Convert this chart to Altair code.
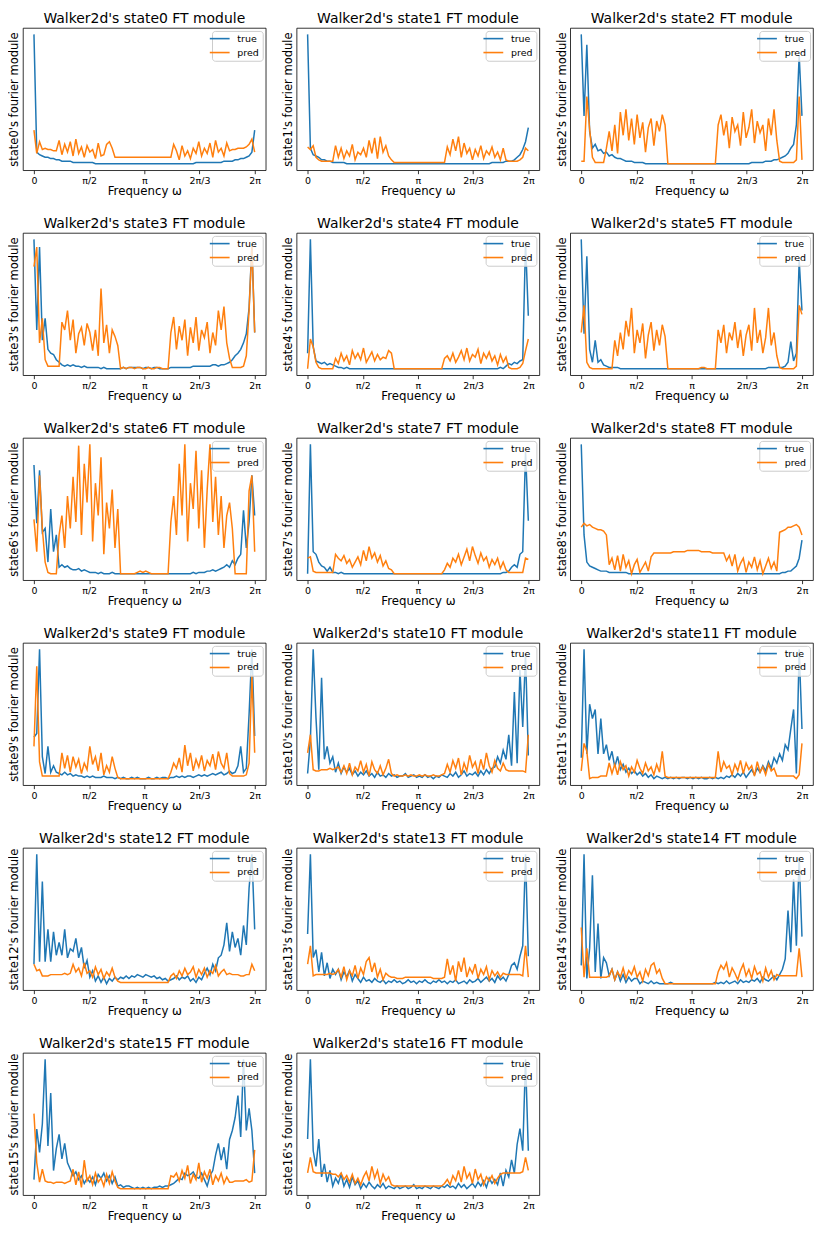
import altair as alt
import pandas as pd

# ---------------- data (0-100 relative units) ----------------
TICK_POS = [0, 19.75, 39.5, 59.25, 79]
TICK_LABELS = ["0", "π/2", "π", "2π/3", "2π"]
SERIES = ["true", "pred"]
COLORS = ["#1f77b4", "#ff7f0e"]

t0 = [100, 9, 7, 6, 5, 5, 4, 4, 3, 3, 2, 2, 2, 2, 1, 1, 1, 1, 1, 1,
      1, 1, 0, 0, 0, 0, 0, 0, 0, 0, 0, 0, 0, 0, 0, 0, 0, 0, 0, 0,
      0, 0, 0, 0, 0, 0, 0, 0, 0, 0, 0, 0, 0, 0, 0, 0, 0, 0, 1, 1,
      1, 1, 1, 1, 1, 1, 1, 1, 2, 2, 2, 2, 3, 3, 4, 4, 5, 6, 9, 26]
p0 = [26, 8, 17, 11, 12, 11, 11, 10, 10, 18, 7, 15, 9, 17, 6, 19, 8, 13, 5, 14,
      9, 11, 4, 16, 6, 7, 15, 17, 12, 5, 5, 5, 5, 5, 5, 5, 5, 5, 5, 5,
      5, 5, 5, 5, 5, 5, 5, 5, 5, 5, 15, 10, 3, 14, 6, 10, 4, 12, 8, 17,
      6, 12, 8, 16, 5, 18, 9, 12, 6, 16, 10, 11, 11, 12, 12, 12, 13, 15, 19, 9]

t1 = [100, 12, 7, 6, 5, 3, 3, 2, 2, 1, 1, 1, 1, 1, 0, 0, 0, 0, 0, 0,
      0, 0, 0, 0, 0, 0, 0, 0, 0, 0, 0, 0, 0, 0, 0, 0, 0, 0, 0, 0,
      0, 0, 0, 0, 0, 0, 0, 0, 0, 0, 0, 0, 0, 0, 0, 0, 0, 0, 0, 0,
      0, 0, 0, 0, 0, 0, 1, 1, 1, 1, 1, 2, 2, 2, 3, 5, 7, 11, 17, 28]
p1 = [13, 11, 14, 5, 3, 2, 2, 2, 2, 2, 14, 5, 12, 4, 10, 6, 15, 3, 9, 7,
      12, 5, 18, 8, 20, 4, 21, 9, 14, 6, 3, 1, 1, 1, 1, 1, 1, 1, 1, 1,
      1, 1, 1, 1, 1, 1, 1, 1, 1, 1, 13, 7, 19, 10, 21, 5, 16, 8, 12, 3,
      11, 6, 14, 4, 10, 7, 13, 5, 9, 3, 12, 3, 2, 2, 2, 2, 3, 5, 12, 10]

t2 = [100, 37, 92, 25, 12, 15, 10, 11, 8, 9, 6, 7, 5, 4, 4, 3, 2, 2, 2, 1,
      1, 1, 1, 0, 0, 0, 0, 0, 0, 0, 0, 0, 0, 0, 0, 0, 0, 0, 0, 0,
      0, 0, 0, 0, 0, 0, 0, 0, 0, 0, 0, 0, 0, 0, 0, 0, 0, 0, 0, 0,
      0, 1, 1, 1, 1, 1, 2, 2, 2, 3, 3, 4, 5, 6, 8, 12, 15, 30, 84, 37]
p2 = [2, 2, 52, 27, 5, 1, 1, 1, 1, 12, 25, 10, 30, 8, 40, 22, 42, 18, 35, 15,
      38, 20, 32, 9, 28, 35, 14, 33, 25, 38, 30, 0, 0, 0, 0, 0, 0, 0, 0, 0,
      0, 0, 0, 0, 0, 0, 0, 0, 0, 30, 38, 22, 33, 12, 36, 25, 30, 14, 40, 20,
      28, 42, 16, 33, 24, 30, 10, 35, 22, 42, 18, 2, 1, 1, 1, 1, 1, 3, 52, 3]

t3 = [100, 30, 94, 22, 39, 15, 12, 11, 7, 5, 3, 2, 3, 2, 3, 2, 2, 1, 2, 1,
      1, 1, 1, 1, 0, 1, 0, 0, 0, 0, 0, 0, 1, 0, 1, 1, 1, 1, 1, 0,
      1, 1, 0, 1, 1, 0, 0, 0, 0, 1, 1, 1, 1, 1, 1, 1, 1, 2, 2, 2,
      2, 2, 2, 2, 3, 3, 2, 3, 3, 4, 5, 7, 10, 12, 15, 20, 27, 47, 96, 28]
p3 = [79, 94, 20, 39, 7, 2, 2, 2, 2, 2, 36, 30, 45, 22, 38, 12, 27, 32, 18, 35,
      28, 14, 30, 10, 62, 20, 34, 12, 30, 25, 18, 0, 1, 0, 1, 1, 0, 1, 1, 0,
      0, 1, 0, 0, 1, 1, 0, 0, 0, 28, 40, 15, 33, 22, 38, 10, 32, 20, 40, 14,
      30, 24, 36, 12, 28, 18, 45, 30, 48, 20, 8, 1, 1, 1, 1, 2, 10, 45, 95, 28]

t4 = [12, 100, 17, 6, 5, 4, 5, 3, 4, 3, 2, 1, 1, 0, 1, 0, 0, 0, 0, 0,
      0, 0, 0, 0, 0, 0, 0, 0, 0, 0, 0, 0, 0, 0, 0, 0, 0, 0, 0, 0,
      0, 0, 0, 0, 0, 0, 0, 0, 0, 0, 0, 0, 0, 0, 0, 0, 0, 0, 0, 0,
      0, 0, 0, 0, 0, 0, 0, 0, 0, 1, 0, 2, 4, 3, 5, 4, 6, 7, 98, 41]
p4 = [0, 23, 17, 5, 1, 0, 0, 0, 0, 0, 8, 4, 12, 6, 10, 3, 14, 8, 12, 7,
      16, 5, 9, 13, 6, 11, 7, 9, 8, 14, 12, 0, 0, 0, 0, 0, 0, 0, 0, 0,
      0, 0, 0, 0, 0, 0, 0, 0, 0, 8, 10, 6, 12, 5, 9, 14, 7, 16, 6, 11,
      9, 15, 4, 12, 8, 13, 6, 10, 3, 11, 5, 9, 1, 0, 0, 0, 1, 4, 14, 23]

t5 = [100, 27, 87, 15, 5, 22, 5, 7, 3, 2, 1, 1, 1, 1, 0, 0, 0, 0, 0, 0,
      0, 0, 0, 0, 0, 0, 0, 0, 0, 0, 0, 0, 0, 0, 0, 0, 0, 0, 0, 0,
      0, 0, 0, 0, 0, 0, 0, 0, 0, 0, 0, 0, 0, 0, 0, 0, 0, 0, 0, 0,
      0, 0, 0, 0, 0, 0, 0, 1, 1, 1, 1, 1, 1, 2, 5, 21, 6, 12, 84, 45]
p5 = [28, 49, 5, 1, 0, 0, 0, 0, 0, 0, 0, 0, 22, 10, 28, 15, 37, 25, 47, 12,
      30, 20, 35, 8, 26, 36, 14, 30, 18, 34, 25, 0, 0, 0, 0, 0, 0, 0, 0, 0,
      0, 0, 0, 1, 1, 0, 0, 0, 0, 30, 20, 34, 12, 28, 22, 36, 16, 30, 10, 26,
      34, 14, 47, 20, 30, 12, 24, 47, 18, 28, 10, 1, 0, 0, 0, 0, 0, 2, 49, 42]

t6 = [84, 39, 80, 32, 35, 9, 50, 17, 30, 5, 7, 5, 6, 4, 3, 3, 4, 2, 3, 2,
      1, 1, 1, 0, 1, 0, 0, 0, 1, 0, 0, 0, 0, 0, 0, 0, 0, 0, 0, 0,
      0, 0, 0, 0, 0, 0, 0, 0, 0, 0, 0, 0, 0, 0, 0, 0, 0, 1, 0, 1,
      1, 1, 2, 2, 3, 2, 3, 4, 5, 7, 5, 10, 7, 12, 15, 49, 20, 40, 76, 45]
p6 = [42, 17, 76, 35, 9, 1, 0, 0, 0, 30, 45, 20, 60, 35, 75, 40, 99, 30, 85, 55,
      100, 25, 70, 45, 90, 15, 55, 35, 65, 20, 50, 0, 0, 0, 0, 0, 0, 1, 2, 1,
      2, 1, 0, 0, 0, 0, 0, 0, 0, 40, 60, 30, 85, 45, 100, 25, 70, 50, 95, 35,
      80, 20, 65, 100, 40, 75, 30, 60, 20, 45, 55, 35, 0, 0, 0, 0, 0, 64, 76, 17]

t7 = [0, 100, 17, 15, 9, 6, 5, 2, 5, 1, 1, 0, 1, 0, 0, 0, 0, 0, 0, 0,
      0, 0, 0, 0, 0, 0, 0, 0, 0, 0, 0, 0, 0, 0, 0, 0, 0, 0, 0, 0,
      0, 0, 0, 0, 0, 0, 0, 0, 0, 0, 0, 0, 0, 0, 0, 0, 0, 0, 0, 0,
      0, 0, 0, 0, 0, 0, 0, 0, 0, 0, 1, 1, 2, 5, 7, 5, 15, 17, 94, 41]
p7 = [12, 13, 2, 1, 1, 1, 1, 1, 1, 1, 15, 12, 10, 14, 8, 11, 5, 9, 13, 7,
      18, 10, 21, 12, 16, 9, 14, 6, 10, 4, 3, 0, 0, 0, 0, 0, 0, 0, 0, 0,
      0, 0, 0, 0, 0, 0, 0, 0, 0, 3, 8, 5, 12, 9, 15, 7, 13, 19, 10, 21,
      14, 8, 16, 10, 13, 5, 11, 7, 12, 4, 9, 3, 1, 1, 1, 1, 1, 1, 12, 11]

t8 = [100, 30, 9, 6, 5, 4, 3, 2, 2, 2, 1, 1, 1, 1, 1, 1, 1, 0, 0, 0,
      0, 0, 0, 0, 0, 0, 0, 0, 0, 0, 0, 0, 0, 0, 0, 0, 0, 0, 0, 0,
      0, 0, 0, 0, 0, 0, 0, 0, 0, 0, 0, 0, 0, 0, 0, 0, 0, 0, 0, 0,
      0, 0, 0, 0, 0, 0, 0, 0, 0, 0, 0, 0, 1, 1, 2, 2, 4, 6, 12, 26]
p8 = [36, 39, 37, 38, 36, 35, 34, 34, 33, 30, 7, 12, 3, 14, 2, 15, 5, 10, 0, 7,
      11, 1, 5, 9, 2, 13, 16, 16, 16, 16, 16, 16, 16, 17, 17, 17, 17, 17, 18, 18,
      18, 18, 18, 17, 17, 17, 17, 16, 16, 16, 16, 16, 10, 14, 6, 15, 2, 8, 12, 1,
      9, 5, 13, 3, 10, 0, 6, 12, 4, 9, 2, 32, 33, 34, 36, 36, 37, 38, 36, 30]

t9 = [32, 35, 100, 17, 4, 25, 5, 10, 5, 4, 3, 5, 3, 4, 2, 3, 2, 2, 1, 2,
      1, 2, 1, 1, 1, 2, 1, 1, 1, 0, 1, 0, 1, 0, 0, 1, 0, 1, 0, 0,
      0, 1, 0, 0, 1, 0, 1, 1, 0, 1, 1, 2, 1, 2, 1, 2, 2, 1, 2, 3,
      2, 3, 2, 3, 4, 3, 4, 5, 3, 4, 6, 4, 5, 10, 25, 5, 8, 50, 100, 33]
p9 = [25, 87, 13, 2, 2, 2, 2, 2, 2, 2, 20, 8, 18, 5, 17, 9, 15, 4, 12, 7,
      25, 11, 17, 6, 20, 3, 10, 5, 17, 8, 1, 0, 0, 0, 0, 0, 0, 0, 0, 0,
      0, 0, 0, 0, 0, 0, 0, 0, 0, 5, 12, 8, 16, 5, 26, 10, 20, 6, 15, 9,
      18, 6, 14, 10, 19, 7, 21, 12, 8, 20, 4, 2, 2, 2, 2, 2, 3, 12, 80, 20]

t10 = [4, 30, 100, 47, 7, 78, 15, 25, 12, 17, 5, 12, 4, 9, 5, 8, 3, 6, 2, 5,
       3, 6, 2, 4, 1, 5, 2, 3, 1, 4, 2, 3, 1, 2, 2, 4, 1, 2, 3, 1,
       2, 1, 3, 1, 2, 0, 2, 1, 3, 2, 1, 4, 2, 5, 1, 3, 6, 2, 4, 3,
       5, 2, 6, 3, 7, 4, 8, 9, 17, 12, 22, 15, 34, 10, 67, 12, 84, 40, 97, 18]
p10 = [20, 34, 7, 6, 6, 7, 7, 7, 8, 7, 8, 9, 5, 10, 4, 12, 3, 9, 6, 14,
       5, 11, 2, 13, 7, 4, 10, 3, 8, 15, 4, 2, 3, 2, 2, 3, 2, 3, 2, 2,
       3, 2, 3, 2, 2, 3, 2, 2, 3, 4, 11, 5, 14, 8, 16, 3, 12, 6, 18, 9,
       13, 4, 15, 7, 20, 10, 5, 14, 8, 6, 12, 7, 6, 6, 6, 6, 6, 6, 5, 34]

t11 = [17, 100, 20, 58, 47, 54, 20, 47, 20, 27, 15, 22, 10, 18, 8, 12, 6, 9, 5, 7,
       4, 6, 3, 5, 2, 4, 1, 3, 2, 1, 2, 1, 2, 1, 2, 1, 2, 2, 1, 2,
       1, 2, 1, 2, 1, 1, 2, 1, 2, 1, 2, 1, 3, 2, 4, 2, 5, 3, 6, 2,
       5, 8, 4, 9, 6, 11, 7, 14, 9, 17, 13, 20, 15, 27, 23, 39, 54, 5, 100, 39]
p11 = [7, 28, 22, 1, 2, 2, 2, 3, 3, 3, 13, 5, 12, 4, 14, 8, 11, 3, 10, 6,
       15, 9, 5, 13, 7, 10, 4, 12, 6, 22, 3, 2, 2, 2, 2, 2, 2, 2, 2, 2,
       2, 2, 2, 2, 2, 2, 2, 2, 2, 22, 6, 14, 9, 11, 4, 12, 7, 15, 5, 13,
       8, 11, 3, 14, 6, 10, 4, 12, 7, 9, 3, 3, 3, 3, 3, 3, 3, 1, 4, 28]

t12 = [15, 100, 17, 79, 17, 42, 17, 40, 22, 32, 22, 42, 20, 27, 25, 35, 20, 28, 12, 18,
       5, 10, 2, 6, 1, 5, 0, 4, 2, 5, 3, 5, 4, 6, 4, 6, 5, 7, 6, 5,
       7, 6, 5, 6, 4, 5, 3, 4, 2, 3, 4, 6, 3, 5, 4, 6, 2, 4, 1, 5,
       3, 8, 12, 7, 15, 10, 20, 22, 30, 47, 25, 40, 28, 35, 22, 45, 30, 74, 100, 42]
p12 = [15, 10, 11, 6, 6, 6, 7, 7, 7, 7, 7, 8, 7, 8, 15, 9, 12, 6, 16, 8,
       10, 5, 13, 7, 11, 4, 9, 6, 12, 5, 2, 1, 1, 1, 1, 1, 1, 1, 1, 1,
       1, 1, 1, 1, 1, 1, 1, 1, 1, 6, 8, 4, 10, 6, 12, 7, 9, 13, 5, 11,
       7, 12, 5, 10, 8, 14, 6, 9, 11, 7, 8, 7, 7, 7, 6, 6, 7, 7, 15, 10]

t13 = [39, 100, 21, 27, 10, 25, 7, 17, 5, 12, 8, 12, 4, 10, 6, 11, 3, 8, 5, 2,
       6, 3, 4, 2, 5, 3, 2, 4, 1, 3, 2, 4, 2, 3, 1, 2, 4, 2, 3, 1,
       3, 2, 4, 2, 1, 3, 2, 4, 2, 3, 1, 3, 2, 4, 1, 2, 3, 1, 4, 2,
       3, 5, 2, 4, 6, 3, 5, 2, 7, 4, 6, 3, 8, 15, 17, 12, 22, 30, 100, 22]
p13 = [16, 30, 7, 8, 8, 8, 8, 8, 9, 8, 9, 12, 6, 14, 4, 11, 7, 15, 5, 13,
       8, 18, 21, 10, 17, 6, 12, 4, 9, 7, 6, 6, 5, 5, 5, 6, 6, 6, 6, 6,
       6, 6, 6, 6, 6, 5, 5, 5, 5, 6, 20, 8, 15, 3, 18, 10, 21, 6, 13, 9,
       16, 5, 12, 8, 14, 4, 11, 7, 10, 6, 9, 8, 8, 8, 8, 8, 8, 7, 30, 6]

t14 = [15, 100, 5, 28, 84, 10, 47, 5, 21, 17, 7, 12, 4, 10, 3, 8, 2, 6, 3, 5,
       5, 1, 3, 2, 1, 3, 1, 2, 1, 1, 1, 1, 2, 1, 1, 1, 1, 1, 1, 1,
       1, 1, 1, 1, 1, 1, 1, 1, 2, 1, 2, 1, 3, 1, 2, 3, 1, 4, 2, 3,
       2, 4, 3, 5, 2, 6, 4, 3, 5, 7, 4, 8, 12, 20, 57, 25, 81, 30, 98, 37]
p14 = [44, 6, 28, 6, 6, 6, 6, 6, 6, 6, 7, 12, 4, 10, 6, 13, 5, 11, 8, 14,
       6, 10, 3, 12, 7, 15, 17, 9, 12, 5, 1, 1, 1, 1, 1, 1, 1, 1, 1, 1,
       1, 1, 1, 1, 1, 1, 1, 1, 1, 10, 15, 12, 17, 6, 13, 9, 4, 11, 16, 7,
       12, 5, 14, 8, 10, 3, 13, 6, 11, 4, 8, 7, 7, 7, 7, 7, 7, 7, 28, 6]

t15 = [7, 46, 28, 50, 100, 33, 74, 14, 31, 42, 23, 35, 20, 15, 10, 13, 7, 10, 4, 8,
       5, 9, 3, 11, 8, 12, 6, 10, 4, 9, 2, 3, 1, 2, 2, 1, 0, 1, 0, 1,
       0, 1, 0, 1, 1, 2, 1, 2, 2, 3, 4, 6, 8, 7, 12, 10, 11, 13, 9, 8,
       12, 7, 2, 10, 14, 26, 35, 22, 32, 15, 38, 45, 55, 72, 40, 100, 45, 62, 45, 12]
p15 = [58, 20, 5, 15, 6, 5, 5, 4, 5, 5, 5, 4, 5, 6, 15, 3, 13, 1, 22, 6,
       10, 3, 12, 5, 8, 2, 11, 4, 13, 6, 1, 0, 0, 0, 0, 0, 0, 0, 0, 0,
       0, 0, 0, 0, 0, 0, 0, 0, 0, 10, 9, 12, 6, 14, 8, 18, 4, 11, 7, 20,
       5, 13, 8, 15, 3, 10, 6, 12, 4, 9, 5, 5, 6, 6, 6, 6, 7, 5, 6, 30]

t16 = [39, 100, 30, 18, 39, 10, 20, 6, 15, 3, 9, 5, 12, 3, 8, 2, 10, 4, 7, 1,
       5, 2, 6, 3, 1, 4, 2, 5, 1, 3, 2, 1, 3, 1, 2, 3, 1, 2, 4, 1,
       2, 1, 3, 2, 1, 3, 2, 1, 3, 2, 4, 2, 3, 1, 5, 2, 4, 1, 3, 5,
       2, 6, 3, 7, 2, 9, 5, 8, 4, 13, 3, 15, 10, 23, 13, 35, 47, 30, 100, 30]
p16 = [13, 25, 14, 13, 13, 13, 13, 13, 13, 12, 12, 10, 13, 8, 11, 6, 12, 5, 9, 4,
       10, 14, 7, 18, 9, 15, 5, 12, 7, 10, 4, 3, 3, 3, 3, 3, 3, 3, 3, 3,
       3, 3, 3, 3, 3, 3, 3, 3, 3, 5, 8, 4, 11, 7, 15, 6, 18, 9, 13, 5,
       16, 8, 12, 4, 10, 7, 11, 5, 9, 12, 13, 13, 13, 13, 13, 13, 13, 14, 25, 15]

TRUE = [t0, t1, t2, t3, t4, t5, t6, t7, t8, t9, t10, t11, t12, t13, t14, t15, t16]
PRED = [p0, p1, p2, p3, p4, p5, p6, p7, p8, p9, p10, p11, p12, p13, p14, p15, p16]

# ---------------- chart ----------------
FONT = "DejaVu Sans"
N_LAST = 79
label_expr = ("[" + ",".join("'%s'" % s for s in TICK_LABELS) + "][indexof(["
              + ",".join(str(v) for v in TICK_POS) + "], datum.value)]")


def panel(k):
    t, p = TRUE[k], PRED[k]
    df = pd.DataFrame({
        "i": list(range(len(t))) + list(range(len(p))),
        "v": t + p,
        "series": ["true"] * len(t) + ["pred"] * len(p),
    })
    lo, hi = min(t + p), max(t + p)
    pad = 0.05 * (hi - lo)
    return alt.Chart(df).mark_line(strokeWidth=1.5).encode(
        x=alt.X("i:Q",
                scale=alt.Scale(domain=[-0.05 * N_LAST, 1.05 * N_LAST], nice=False, zero=False),
                axis=alt.Axis(values=TICK_POS, labelExpr=label_expr, title="Frequency ω",
                              grid=False, domain=False, tickSize=3.5, tickWidth=0.8,
                              tickColor="#000", labelFontSize=9.5, labelColor="#000",
                              labelPadding=1.5, labelFont=FONT, titleFont=FONT,
                              titleFontSize=11.8, titleFontWeight="normal",
                              titleColor="#000", titlePadding=1)),
        y=alt.Y("v:Q",
                scale=alt.Scale(domain=[lo - pad, hi + pad], nice=False, zero=False),
                axis=alt.Axis(title=f"state{k}'s fourier module", labels=False, ticks=False,
                              grid=False, domain=False, titleFont=FONT, titleFontSize=11.6,
                              titleFontWeight="normal", titleColor="#000", titlePadding=3)),
        color=alt.Color("series:N",
                        scale=alt.Scale(domain=SERIES, range=COLORS),
                        legend=alt.Legend(title=None, orient="top-right", offset=3,
                                          padding=3, strokeColor="#cccccc",
                                          fillColor="rgba(255,255,255,0.8)", cornerRadius=3,
                                          labelFont=FONT, labelFontSize=9.5, labelColor="#000",
                                          symbolType="M-3,0H3", symbolSize=44,
                                          symbolStrokeWidth=1.6, labelOffset=13,
                                          rowPadding=3)),
    ).properties(
        width=244, height=143,
        title=alt.TitleParams(f"Walker2d's state{k} FT module", font=FONT, fontSize=14,
                              fontWeight="normal", color="#000", offset=2),
    )


charts = [panel(k) for k in range(17)]

chart = alt.concat(*charts, columns=3, spacing={"row": 18, "column": 15}).resolve_scale(
    x="independent", y="independent", color="independent"
).resolve_legend(color="independent").configure_view(
    stroke="#000", strokeWidth=0.8
).properties(padding=0)

chart.save("out.html", embed_options={"renderer": "svg", "actions": False})
